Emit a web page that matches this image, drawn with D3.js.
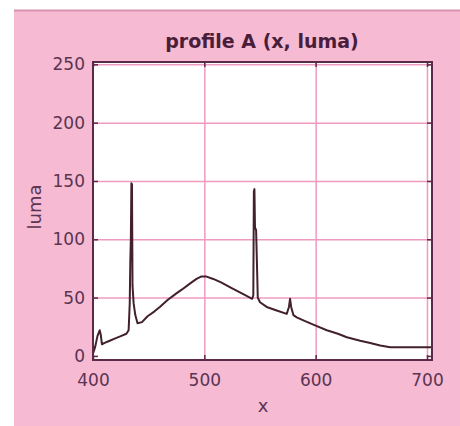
<!DOCTYPE html>
<html>
<head>
<meta charset="utf-8">
<script src="https://cdn.jsdelivr.net/npm/d3@7"></script>
<style>
  body { margin: 0; background: #fff; }
  svg { display: block; }
</style>
</head>
<body>
<svg id="chart" width="460" height="426"></svg>
<script>
// x positions and luma readings
const xs = [400, 402, 404, 406, 407, 408, 410, 415, 420, 425, 430, 432, 433, 433.5, 434, 434.5, 435, 435.5, 436.5, 438, 440,
  444, 449, 455, 460, 467, 474, 480, 487, 493, 497, 502, 508, 515, 525, 535, 543, 544, 544.5, 545, 545.5, 546.5, 547.5,
  548, 550, 556, 565, 574, 576, 577, 578, 580, 583, 590, 600, 610, 620, 628, 640, 649, 658, 667, 680, 690, 704];
const luma = [2, 8, 17, 22, 18, 10, 11, 13, 15, 17, 19, 22, 45, 80, 100, 148, 147, 60, 45, 35, 28,
  29, 34, 38, 42, 48, 53, 57, 62, 66, 68, 68, 66, 63, 58, 53, 49, 52, 141, 143, 110, 108, 70,
  50, 46, 42, 39, 36, 42, 49, 42, 35, 33, 30, 26, 22, 19, 16, 13, 11, 9, 7.5, 7.5, 7.5, 7.5];
const xTicks = [400, 500, 600, 700];
const yTicks = [0, 50, 100, 150, 200, 250];
const title = "profile A (x, luma)";

const data = xs.map((x, i) => ({ x: x, y: luma[i] }));

const svg = d3.select("#chart");
const ink = "#5a2a48";
const textInk = "#5a3450";
const gridPink = "#f09ac0";

// pink panel
svg.append("rect").attr("x", 14).attr("y", 11).attr("width", 446).attr("height", 415).attr("fill", "#f6bad3");
svg.append("line").attr("x1", 14).attr("x2", 460).attr("y1", 10.5).attr("y2", 10.5)
  .attr("stroke", "#d592b0").attr("stroke-width", 2);

const margin = { top: 62, right: 28, bottom: 66, left: 93 };
const width = 460 - margin.left - margin.right;
const height = 426 - margin.top - margin.bottom;
const g = svg.append("g").attr("transform", `translate(${margin.left},${margin.top})`);

const x = d3.scaleLinear().domain([400, 704.5]).range([0, width]);
const y = d3.scaleLinear().domain([-3.5, 252]).range([height, 0]);

g.append("rect").attr("width", width).attr("height", height).attr("fill", "#fff");

// grid
g.append("g").attr("transform", `translate(0,${height})`)
  .call(d3.axisBottom(x).tickValues(xTicks.slice(1)).tickSize(-height).tickFormat(""))
  .call(a => a.select(".domain").remove())
  .call(a => a.selectAll("line").attr("stroke", gridPink).attr("stroke-width", 1.5));
g.append("g")
  .call(d3.axisLeft(y).tickValues(yTicks.slice(1)).tickSize(-width).tickFormat(""))
  .call(a => a.select(".domain").remove())
  .call(a => a.selectAll("line").attr("stroke", gridPink).attr("stroke-width", 1.5));

// profile line
g.append("path").datum(data)
  .attr("fill", "none")
  .attr("stroke", "#42202c")
  .attr("stroke-width", 2)
  .attr("stroke-linejoin", "round")
  .attr("d", d3.line().x(d => x(d.x)).y(d => y(d.y)));

// axes with inward ticks
const bottom = g.append("g").attr("transform", `translate(0,${height})`)
  .call(d3.axisBottom(x).tickValues(xTicks).tickSizeInner(-5).tickSizeOuter(0).tickPadding(14));
const left = g.append("g")
  .call(d3.axisLeft(y).tickValues(yTicks).tickSizeInner(-5).tickSizeOuter(0).tickPadding(8));
g.append("g")
  .call(d3.axisTop(x).tickValues(xTicks).tickSizeInner(-5).tickSizeOuter(0).tickFormat(""));
g.append("g").attr("transform", `translate(${width},0)`)
  .call(d3.axisRight(y).tickValues(yTicks).tickSizeInner(-5).tickSizeOuter(0).tickFormat(""));

g.selectAll(".domain").attr("stroke", "none");
[bottom, left].forEach(a => a.selectAll("text")
  .attr("fill", textInk).attr("font-family", "DejaVu Sans").attr("font-size", 17));
g.selectAll("g.tick line").each(function () {
  const s = d3.select(this);
  if (s.attr("stroke") === "currentColor") s.attr("stroke", ink).attr("stroke-width", 1.5);
});

// frame
g.append("rect").attr("width", width).attr("height", height)
  .attr("fill", "none").attr("stroke", ink).attr("stroke-width", 2);

// titles
svg.append("text").attr("x", 262).attr("y", 48).attr("text-anchor", "middle")
  .attr("font-family", "DejaVu Sans").attr("font-weight", "bold").attr("font-size", 19)
  .attr("fill", "#4a1e3a").text(title);
svg.append("text").attr("x", 263).attr("y", 412).attr("text-anchor", "middle")
  .attr("font-family", "DejaVu Sans").attr("font-size", 18).attr("fill", textInk).text("x");
svg.append("text").attr("transform", "translate(41,207) rotate(-90)").attr("text-anchor", "middle")
  .attr("font-family", "DejaVu Sans").attr("font-size", 18).attr("fill", textInk).text("luma");
</script>
</body>
</html>
